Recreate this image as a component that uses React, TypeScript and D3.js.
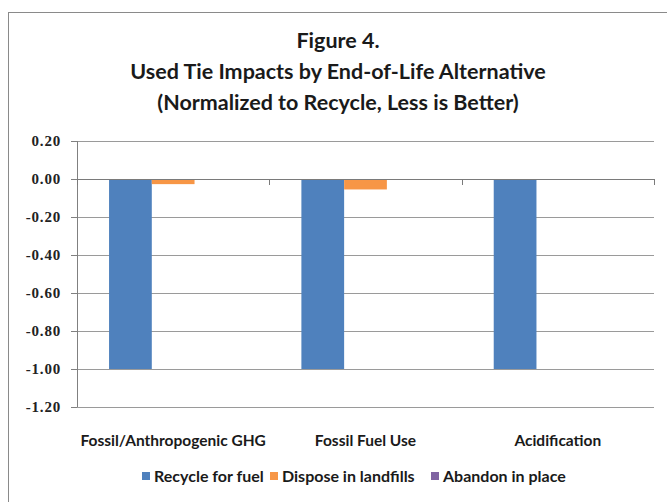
import React from 'react';
import * as d3 from 'd3';

const categories = ['Fossil/Anthropogenic GHG', 'Fossil Fuel Use', 'Acidification'];
const seriesNames = ['Recycle for fuel', 'Dispose in landfills', 'Abandon in place'];
const seriesColors = ['#4F81BD', '#F79646', '#8064A2'];
const recycleValues = [-1.0, -1.0, -1.0];
const disposeValues = [-0.027, -0.055, 0];
const abandonValues = [0, 0, 0];
const yTicks = [0.2, 0, -0.2, -0.4, -0.6, -0.8, -1.0, -1.2];
const titleLines = [
  'Figure 4.',
  'Used Tie Impacts by End-of-Life Alternative',
  '(Normalized to Recycle, Less is Better)',
];

const seriesValues = [recycleValues, disposeValues, abandonValues];

const W = 667;
const H = 502;
const plot = { left: 77, right: 654, top: 141, bottom: 407 };
const sans = 'Lato, "Open Sans", sans-serif';
const serif = '"Liberation Serif", "DejaVu Serif", serif';

export default function App() {
  const y = d3.scaleLinear().domain([-1.2, 0.2]).range([plot.bottom, plot.top]);
  const x0 = d3.scaleBand<string>().domain(categories).range([plot.left, plot.right]).padding(0);
  const x1 = d3
    .scaleBand<string>()
    .domain(seriesNames)
    .range([0, x0.bandwidth()])
    .paddingInner(0)
    .paddingOuter(0.75);
  const fmt = (v: number) => d3.format('.2f')(v).replace('\u2212', '-');
  const y0 = y(0);

  // legend layout
  const legendX = [142, 270, 431];

  return (
    <svg
      width={W}
      height={H}
      style={{ position: 'absolute', left: 0, top: 0, background: '#fff' }}
    >
      <rect x={0} y={0} width={W} height={H} fill="#fff" />
      <rect x={8.5} y={12.5} width={W + 20} height={H + 20} fill="none" stroke="#8a8a8a" strokeWidth={1} />

      {titleLines.map((t, i) => (
        <text
          key={t}
          x={338}
          y={48 + i * 31}
          textAnchor="middle"
          fontFamily={sans}
          fontWeight="bold"
          fontSize={21.5}
          fill="#1a1a1a"
        >
          {t}
        </text>
      ))}

      {/* gridlines and y labels */}
      {yTicks.map((t) => (
        <g key={t}>
          {t !== 0 && (
            <line
              x1={plot.left}
              x2={plot.right}
              y1={Math.round(y(t)) + 0.5}
              y2={Math.round(y(t)) + 0.5}
              stroke="#9a9a9a"
              strokeWidth={1}
            />
          )}
          <line
            x1={plot.left - 6}
            x2={plot.left}
            y1={Math.round(y(t)) + 0.5}
            y2={Math.round(y(t)) + 0.5}
            stroke="#808080"
          />
          <text
            x={61}
            y={y(t) + 5}
            textAnchor="end"
            fontFamily={serif}
            fontWeight="bold"
            fontSize={15}
            letterSpacing={0.8}
            fill="#222"
          >
            {fmt(t)}
          </text>
        </g>
      ))}

      {/* y axis line */}
      <line
        x1={plot.left + 0.5}
        x2={plot.left + 0.5}
        y1={plot.top}
        y2={plot.bottom}
        stroke="#808080"
      />

      {/* bars */}
      {categories.map((c, ci) => (
        <g key={c} transform={`translate(${x0(c)},0)`}>
          {seriesNames.map((s, si) => {
            const v = seriesValues[si][ci];
            const top = Math.min(y(v), y0);
            const h = Math.abs(y(v) - y0);
            return (
              <rect
                key={s}
                x={x1(s)}
                y={top}
                width={x1.bandwidth()}
                height={h}
                fill={seriesColors[si]}
              />
            );
          })}
        </g>
      ))}

      {/* category axis at zero */}
      <line
        x1={plot.left}
        x2={plot.right}
        y1={Math.round(y0) + 0.5}
        y2={Math.round(y0) + 0.5}
        stroke="#7a7a7a"
      />
      {[...categories.map((c) => x0(c) as number), plot.right].map((tx, i) => (
        <line
          key={i}
          x1={Math.round(tx) + 0.5}
          x2={Math.round(tx) + 0.5}
          y1={y0}
          y2={y0 + 6}
          stroke="#7a7a7a"
        />
      ))}

      {/* category labels */}
      {categories.map((c) => (
        <text
          key={c}
          x={(x0(c) as number) + x0.bandwidth() / 2}
          y={446}
          textAnchor="middle"
          fontFamily={sans}
          fontWeight="bold"
          fontSize={15.5}
          fill="#1a1a1a"
        >
          {c}
        </text>
      ))}

      {/* legend */}
      {seriesNames.map((s, i) => (
        <g key={s} transform={`translate(${legendX[i]},0)`}>
          <rect x={0} y={472} width={8} height={8} fill={seriesColors[i]} />
          <text
            x={12}
            y={482}
            fontFamily={sans}
            fontWeight="bold"
            fontSize={16}
            fill="#1a1a1a"
          >
            {s}
          </text>
        </g>
      ))}
    </svg>
  );
}
